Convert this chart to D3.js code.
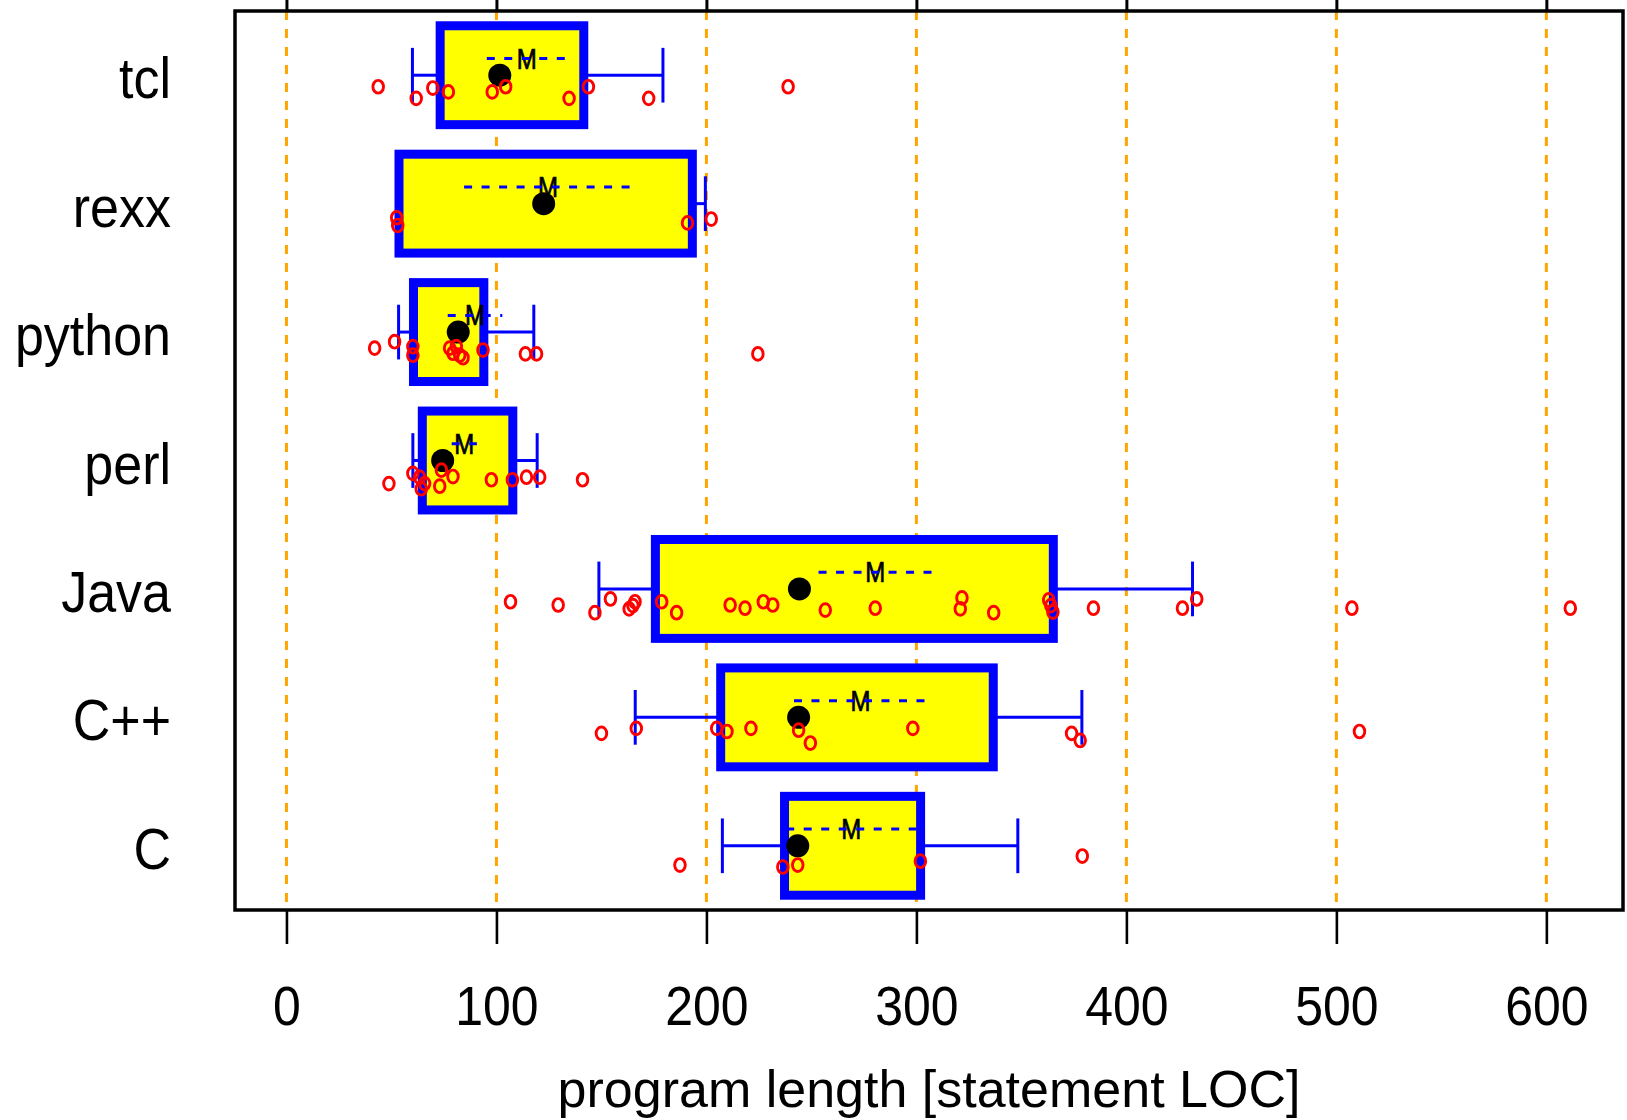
<!DOCTYPE html>
<html>
<head>
<meta charset="utf-8">
<script src="https://cdn.jsdelivr.net/npm/d3@7"></script>
<style>
  body { margin: 0; background: #fff; }
  text { font-family: "Liberation Sans", Arial, sans-serif; fill: #000; }
</style>
</head>
<body>
<div id="chart"></div>
<script>
// languages from top row to bottom row
const languages = ["tcl", "rexx", "python", "perl", "Java", "C++", "C"];
// box statistics (program length, statement LOC)
const q10 = [60, 53, 53.4, 60.2, 148.8, 166.1, 207.6];
const q25 = [73.2, 53.6, 60.5, 64.7, 175.7, 206.8, 237.2];
const medians = [101.6, 122.5, 81.8, 74.4, 244.3, 243.9, 243.5];
const q75 = [141.6, 193.3, 94, 107.8, 365.2, 336.6, 302];
const q90 = [179.3, 199.5, 117.8, 119.4, 431.5, 378.8, 348.3];
const means = [114.4, 124.6, 89.8, 84.7, 280.4, 273.4, 269];
const meanSE = [19, 40, 13, 6, 27, 31.7, 31];

// single programs: [LOC, jitter below the row centre in row units]
const tclPoints = [[43.7, .09], [61.8, .18], [69.7, .10], [77.1, .13], [98, .13], [104.4, .09],
  [134.6, .18], [143.8, .09], [172.5, .18], [238.9, .09]];
const rexxPoints = [[52.5, .11], [53, .17], [191, .15], [202.3, .12]];
const pythonPoints = [[42, .125], [51.5, .075], [60.2, .113], [60.2, .18], [77.7, .125], [79.3, .165],
  [80.9, .113], [82.5, .18], [84.1, .2], [93.6, .14], [113.8, .17], [119.1, .17], [224.5, .17]];
const perlPoints = [[48.8, .18], [60.2, .10], [63.4, .13], [64.2, .22], [65.8, .18], [73, .2],
  [73.8, .075], [79.3, .125], [97.6, .15], [107.6, .15], [114.3, .13], [120.6, .13], [141, .15]];
const javaPoints = [[106.7, .10], [129.4, .125], [146.9, .185], [154.3, .078], [163.2, .155], [165, .13],
  [166, .10], [178.7, .10], [185.8, .185], [211.3, .125], [218.4, .15], [227.1, .10], [231.6, .125],
  [256.6, .165], [280.4, .15], [320.9, .155], [321.7, .07], [336.8, .185], [363, .086], [364, .13],
  [365, .18], [384.3, .15], [426.7, .15], [433.5, .078], [507.4, .15], [611.4, .15]];
const cppPoints = [[150, .125], [166.6, .086], [204.9, .086], [209.8, .11], [221.2, .086], [243.9, .10],
  [249.5, .2], [298.3, .086], [373.9, .125], [378, .18], [511, .11]];
const cPoints = [[187.4, .15], [236.4, .165], [243.5, .15], [301.9, .12], [379, .08]];
const pointSets = [tclPoints, rexxPoints, pythonPoints, perlPoints, javaPoints, cppPoints, cPoints];

const xTicks = [0, 100, 200, 300, 400, 500, 600];
const xTitle = "program length [statement LOC]";

const width = 1627, height = 1120;
const plot = { left: 235, right: 1623, top: 11, bottom: 910 };

const svg = d3.select("#chart").append("svg")
  .attr("width", width)
  .attr("height", height);

// R style axis limits: 0..612 widened by 4%
const x = d3.scaleLinear().domain([-24.5, 636.5]).range([plot.left, plot.right]);
// rows 1..7, C at the bottom
const y = d3.scaleLinear().domain([0.5, 7.5]).range([plot.bottom, plot.top]);
const row = i => languages.length - i;

// orange dashed reference lines
svg.append("g")
  .selectAll("line")
  .data(xTicks)
  .enter().append("line")
  .attr("x1", d => x(d)).attr("x2", d => x(d))
  .attr("y1", plot.top).attr("y2", plot.bottom)
  .attr("stroke", "#FFA500")
  .attr("stroke-width", 3)
  .attr("stroke-dasharray", "9,9");

// bottom axis with the tick labels drawn by hand (stretched a bit like the original)
const xAxis = svg.append("g")
  .attr("transform", `translate(0,${plot.bottom})`)
  .call(d3.axisBottom(x).tickValues(xTicks).tickSize(34).tickFormat(""));
xAxis.select(".domain").remove();
xAxis.selectAll(".tick line").attr("stroke", "#000").attr("stroke-width", 2.6);
xAxis.selectAll(".tick").append("text")
  .attr("transform", "translate(0,115) scale(1,1.1)")
  .attr("text-anchor", "middle")
  .style("font-size", "50px")
  .text(d => d);

const xAxisTop = svg.append("g")
  .attr("transform", `translate(0,${plot.top})`)
  .call(d3.axisTop(x).tickValues(xTicks).tickSize(34).tickFormat(""));
xAxisTop.select(".domain").remove();
xAxisTop.selectAll(".tick line").attr("stroke", "#000").attr("stroke-width", 3);

// axis title
svg.append("text")
  .attr("x", (plot.left + plot.right) / 2)
  .attr("y", 1107)
  .attr("text-anchor", "middle")
  .style("font-size", "52px")
  .text(xTitle);

// language labels
svg.append("g")
  .selectAll("text")
  .data(languages)
  .enter().append("text")
  .attr("transform", (d, i) => `translate(171,${y(row(i)) + 23}) scale(1,1.1)`)
  .attr("text-anchor", "end")
  .style("font-size", "52px")
  .text(d => d);

const boxes = svg.append("g").selectAll("g")
  .data(languages)
  .enter().append("g");

const capHalf = 0.213, boxHalf = 0.385, meanLift = 0.13;

// whiskers: 10% to 25% and 75% to 90%
boxes.append("line")
  .attr("x1", (d, i) => x(q10[i])).attr("x2", (d, i) => x(q25[i]))
  .attr("y1", (d, i) => y(row(i))).attr("y2", (d, i) => y(row(i)));
boxes.append("line")
  .attr("x1", (d, i) => x(q75[i])).attr("x2", (d, i) => x(q90[i]))
  .attr("y1", (d, i) => y(row(i))).attr("y2", (d, i) => y(row(i)));
boxes.append("line")
  .attr("x1", (d, i) => x(q10[i])).attr("x2", (d, i) => x(q10[i]))
  .attr("y1", (d, i) => y(row(i) + capHalf)).attr("y2", (d, i) => y(row(i) - capHalf));
boxes.append("line")
  .attr("x1", (d, i) => x(q90[i])).attr("x2", (d, i) => x(q90[i]))
  .attr("y1", (d, i) => y(row(i) + capHalf)).attr("y2", (d, i) => y(row(i) - capHalf));
boxes.selectAll("line")
  .attr("stroke", "#0000FF")
  .attr("stroke-width", 3);

// the box itself
boxes.append("rect")
  .attr("x", (d, i) => x(q25[i]))
  .attr("width", (d, i) => x(q75[i]) - x(q25[i]))
  .attr("y", (d, i) => y(row(i) + boxHalf))
  .attr("height", (d, i) => y(row(i) - boxHalf) - y(row(i) + boxHalf))
  .attr("fill", "#FFFF00")
  .attr("stroke", "#0000FF")
  .attr("stroke-width", 9);

// mean "M" with plus/minus one standard error
boxes.append("text")
  .attr("transform", (d, i) => `translate(${x(means[i])},${y(row(i) + meanLift) + 10}) scale(1,1.2)`)
  .attr("text-anchor", "middle")
  .style("font-size", "24px")
  .style("stroke", "#000")
  .style("stroke-width", 0.6)
  .text("M");
boxes.append("line")
  .attr("x1", (d, i) => x(means[i] - meanSE[i])).attr("x2", (d, i) => x(means[i] + meanSE[i]))
  .attr("y1", (d, i) => y(row(i) + meanLift)).attr("y2", (d, i) => y(row(i) + meanLift))
  .attr("stroke", "#0000FF")
  .attr("stroke-width", 3)
  .attr("stroke-dasharray", "8,9.5");

// median dot
boxes.append("circle")
  .attr("cx", (d, i) => x(medians[i]))
  .attr("cy", (d, i) => y(row(i)))
  .attr("r", 11.5)
  .attr("fill", "#000");

// individual programs
boxes.each(function(d, i) {
  d3.select(this).selectAll("ellipse")
    .data(pointSets[i])
    .enter().append("ellipse")
    .attr("cx", p => x(p[0]))
    .attr("cy", p => y(row(i) - p[1]))
    .attr("rx", 5.3)
    .attr("ry", 6.4)
    .attr("fill", "none")
    .attr("stroke", "#FF0000")
    .attr("stroke-width", 2.9);
});

// plot frame
svg.append("rect")
  .attr("x", plot.left).attr("y", plot.top)
  .attr("width", plot.right - plot.left)
  .attr("height", plot.bottom - plot.top)
  .attr("fill", "none")
  .attr("stroke", "#000")
  .attr("stroke-width", 3.5);
</script>
</body>
</html>
